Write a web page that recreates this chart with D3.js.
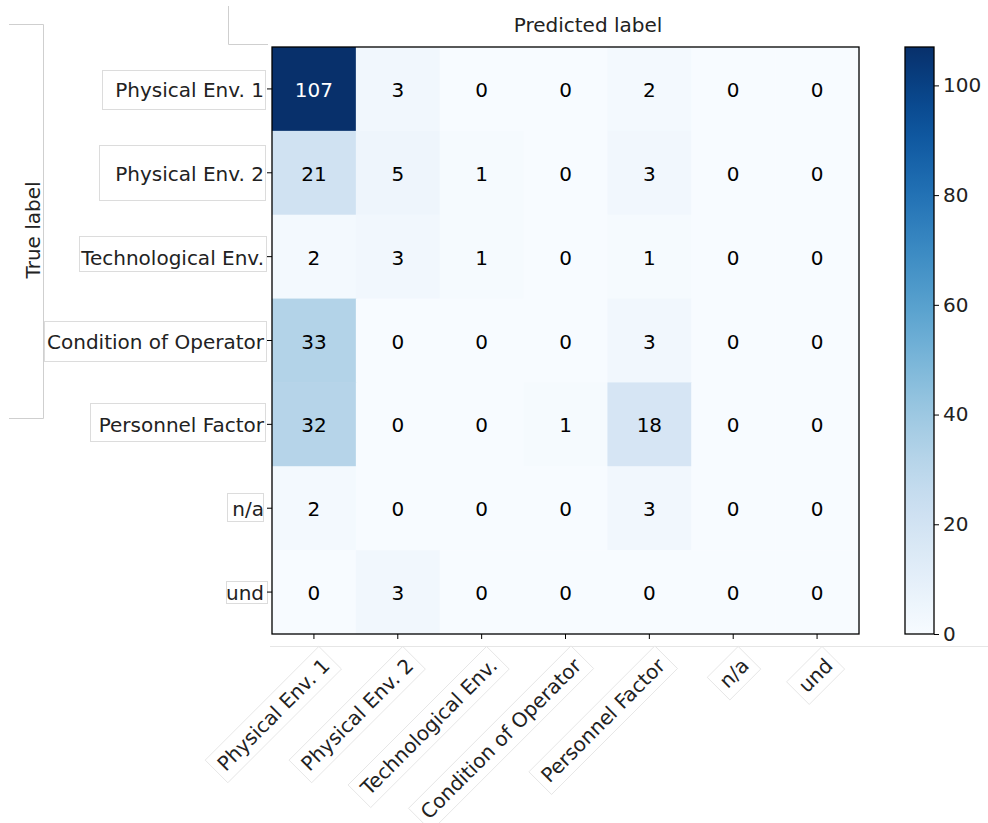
<!DOCTYPE html>
<html><head><meta charset="utf-8">
<script src="https://cdn.jsdelivr.net/npm/d3@7"></script>
<style>body{margin:0;background:#fff;} svg{display:block;font-family:"DejaVu Sans",sans-serif;}</style>
</head><body>
<svg id="c" width="988" height="823"></svg>
<script>
const labels = ["Physical Env. 1","Physical Env. 2","Technological Env.","Condition of Operator","Personnel Factor","n/a","und"];
const matrix = [
  [107,3,0,0,2,0,0],
  [21,5,1,0,3,0,0],
  [2,3,1,0,1,0,0],
  [33,0,0,0,3,0,0],
  [32,0,0,1,18,0,0],
  [2,0,0,0,3,0,0],
  [0,3,0,0,0,0,0]
];
const cbTicks = [0,20,40,60,80,100];
const vmax = 107;
const FS = 20;

const svg = d3.select("#c");
const L=272, T=47, S=587;
const x = d3.scaleBand().domain(labels).range([L, L+S]);
const y = d3.scaleBand().domain(labels).range([T, T+S]);
const color = d3.scaleSequential(d3.interpolateBlues).domain([0, vmax]);

// decorative artifact lines
const g0 = svg.append("g").attr("stroke","#cfcfcf").attr("fill","none").attr("stroke-width",1);
g0.append("path").attr("d","M9,24.5H43.5V418.5H9");
g0.append("path").attr("d","M228.5,6V44.5H268");
g0.append("path").attr("d","M270,646.5H988").attr("stroke","#e6e6e6");

// y label boxes
const yBoxes = [[102,70,163,39],[99,145,166,55],[79,236,187,35],[44,321,222,40],[90,403,175,38],[227,493,36,28],[226,581,41,22]];
svg.append("g").selectAll("rect").data(yBoxes).join("rect")
  .attr("x",d=>d[0]+0.5).attr("y",d=>d[1]+0.5).attr("width",d=>d[2]).attr("height",d=>d[3])
  .attr("fill","#fff").attr("stroke","#dcdcdc");

// cells
const cells = [];
matrix.forEach((row,i)=>row.forEach((v,j)=>cells.push({i,j,v})));
svg.append("g").selectAll("rect").data(cells).join("rect")
  .attr("x",d=>x(labels[d.j])).attr("y",d=>y(labels[d.i]))
  .attr("width",x.bandwidth()+0.5).attr("height",y.bandwidth()+0.5)
  .attr("fill",d=>color(d.v));
svg.append("g").selectAll("text").data(cells).join("text")
  .attr("x",d=>x(labels[d.j])+x.bandwidth()/2).attr("y",d=>y(labels[d.i])+y.bandwidth()/2+1)
  .attr("text-anchor","middle").attr("dominant-baseline","central")
  .attr("font-size",FS).attr("fill",d=>d.v>vmax/2?"#fff":"#000")
  .text(d=>d.v);
svg.append("rect").attr("x",L).attr("y",T).attr("width",S).attr("height",S)
  .attr("fill","none").attr("stroke","#000").attr("stroke-width",1.3);

// axes
const yAx = svg.append("g").attr("transform",`translate(${L},0)`)
  .call(d3.axisLeft(y).tickSize(5).tickPadding(3));
yAx.select(".domain").remove();
yAx.selectAll("text").attr("font-size",FS).attr("fill","#222").attr("font-family","DejaVu Sans").attr("dy","0.35em").attr("y",1);
const xAx = svg.append("g").attr("transform",`translate(0,${T+S})`)
  .call(d3.axisBottom(x).tickSize(5).tickFormat(""));
xAx.select(".domain").remove();

// x labels rotated with boxes
const xg = svg.append("g");
labels.forEach(l=>{
  const cx = x(l)+x.bandwidth()/2 + 12, cy = 662;
  const g = xg.append("g").attr("transform",`translate(${cx},${cy}) rotate(-45)`);
  const t = g.append("text").attr("text-anchor","end").attr("dominant-baseline","central")
    .attr("font-size",FS).attr("fill","#222").text(l);
  const bb = t.node().getBBox();
  g.insert("rect","text").attr("x",bb.x-6).attr("y",bb.y-4).attr("width",bb.width+12).attr("height",bb.height+8)
    .attr("fill","#fff").attr("stroke","#e2e2e2").attr("stroke-width",0.8);
});

// titles
svg.append("text").attr("x",588).attr("y",25).attr("text-anchor","middle").attr("dominant-baseline","central")
  .attr("font-size",FS).attr("fill","#222").text("Predicted label");
svg.append("text").attr("transform","translate(33,230) rotate(-90)").attr("text-anchor","middle").attr("dominant-baseline","central")
  .attr("font-size",FS).attr("fill","#222").text("True label");

// colorbar
const CX=905, CW=29;
const defs = svg.append("defs");
const grad = defs.append("linearGradient").attr("id","cb").attr("x1",0).attr("y1",1).attr("x2",0).attr("y2",0);
d3.range(0,1.0001,0.05).forEach(t=>grad.append("stop").attr("offset",t).attr("stop-color",d3.interpolateBlues(t)));
svg.append("rect").attr("x",CX).attr("y",T).attr("width",CW).attr("height",S).attr("fill","url(#cb)")
  .attr("stroke","#000").attr("stroke-width",1.3);
const cy = d3.scaleLinear().domain([0,vmax]).range([T+S,T]);
const cAx = svg.append("g").attr("transform",`translate(${CX+CW},0)`)
  .call(d3.axisRight(cy).tickValues(cbTicks).tickSize(5).tickPadding(4));
cAx.select(".domain").remove();
cAx.selectAll("text").attr("font-size",FS).attr("fill","#222").attr("font-family","DejaVu Sans");
</script>
</body></html>
